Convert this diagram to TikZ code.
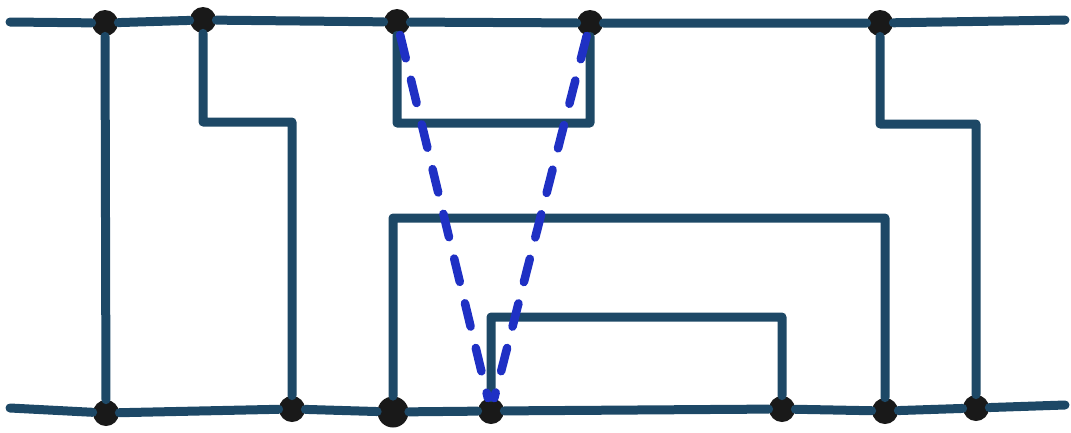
\documentclass[tikz,border=0pt]{standalone}
\usepackage{tikz}
\usetikzlibrary{calc}
\definecolor{inkline}{HTML}{1D4866}
\definecolor{inkdash}{HTML}{1F30C4}
\tikzset{
    joint node/.style={circle, fill=black!90, draw=none, minimum size=5.2mm, inner sep=0pt},
    wire/.style={draw=inkline, line width=1.8mm, line cap=round, line join=round},
    link line/.style={draw=inkdash, line width=1.7mm, line cap=round, dash pattern=on 4.8mm off 4.4mm},
}

\begin{document}
\begin{tikzpicture}[x=0.2mm, y=-0.2mm]
            \useasboundingbox (0,0) rectangle (1071,432);
            \coordinate (tl) at (10,22);
            \coordinate (tr) at (1065,20);
            \coordinate (bl) at (10,408);
            \coordinate (br) at (1065,405);
            \node[joint node] (t1) at (105,23) {};
            \node[joint node] (t2) at (203,20) {};
            \node[joint node] (t3) at (397,22) {};
            \node[joint node] (t4) at (590,23) {};
            \node[joint node] (t5) at (880,23) {};
            \node[joint node] (b1) at (106,413) {};
            \node[joint node] (b2) at (292,409) {};
            \node[joint node, minimum size=6.2mm] (b3) at (393,412) {};
            \node[joint node] (b4) at (491,411) {};
            \node[joint node] (b5) at (782,409) {};
            \node[joint node] (b6) at (885,411) {};
            \node[joint node] (b7) at (976,408) {};
            \coordinate (k2) at (292,122);
            \coordinate (k3) at (590,123);
            \coordinate (k4) at (885,218);
            \coordinate (k5) at (782,317);
            \coordinate (k6) at (976,124);
            \path[wire]
            (tl) -- (t1) -- (t2) -- (t3) -- (t4) -- (t5) -- (tr)
            (bl) -- (b1) -- (b2) -- (b3) -- (b4) -- (b5) -- (b6) -- (b7) -- (br)
            (t1) -- (b1)
            (t2) |- (k2) -- (b2)
            (t3) |- (k3) -- (t4)
            (b3) |- (k4) -- (b6)
            (b4) |- (k5) -- (b5)
            (t5) |- (k6) -- (b7);
            \path[link line]
            (t3) -- (b4)
            (t4) -- (b4);
        \end{tikzpicture}
\end{document}
